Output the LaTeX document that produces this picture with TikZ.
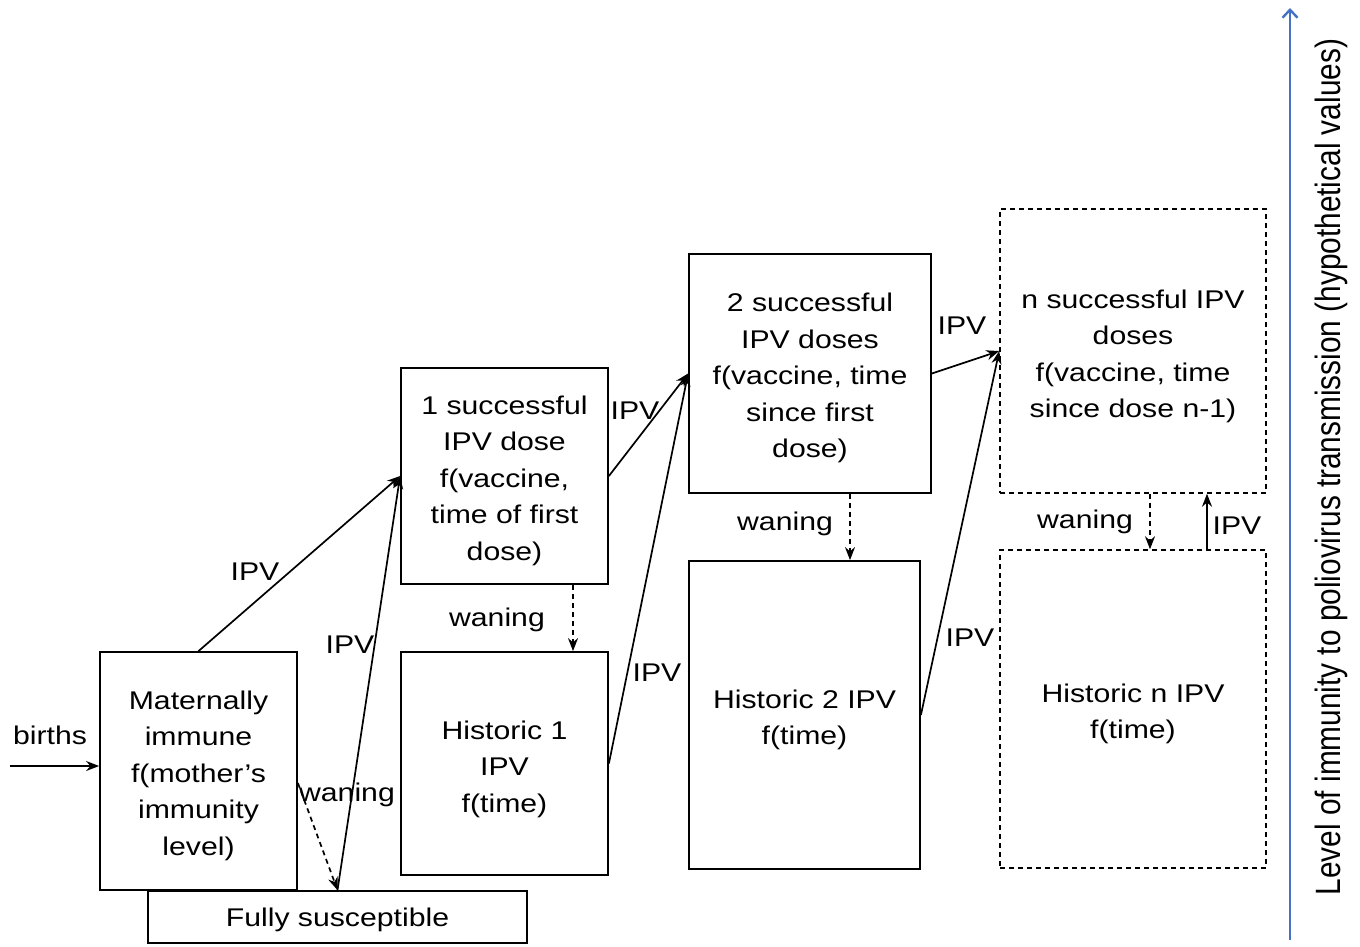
\documentclass[tikz,border=0pt]{standalone}
\usepackage{fontspec}
\setmainfont{Liberation Sans}[FakeStretch=1.18]
\newfontfamily\axisfont{Liberation Sans}
\usepackage{graphicx}
\usetikzlibrary{arrows.meta}
\newcommand\mainf{\fontsize{25.6}{36.5}\selectfont}
\newcommand\tstrut{\rule{0pt}{28pt}}
\begin{document}
\begin{tikzpicture}[x=1pt,y=-1pt,
  box/.style={draw, line width=1.8pt, align=center, inner sep=0pt, font=\mainf},
  dbox/.style={box, line width=1.5pt, dash pattern=on 5pt off 4pt},
  arr/.style={-{Stealth[length=13pt,width=10pt]}, line width=1.7pt},
  darr/.style={arr, dash pattern=on 5pt off 4pt},
  lab/.style={font=\mainf, inner sep=0pt},
  axis/.style={-{Straight Barb[length=8pt,width=15pt]}, line width=2.4pt, draw={rgb,255:red,68;green,114;blue,196}}]
\useasboundingbox (0,0) rectangle (1360,946);
% boxes
\node[box, minimum width=197pt, minimum height=238pt] (mat) at (198.5,771) {\tstrut Maternally\\immune\\f(mother’s\\immunity\\level)};
\node[box, minimum width=379pt, minimum height=52pt] (sus) at (337.5,917) {\rule{0pt}{24pt}Fully susceptible};
\node[box, minimum width=207pt, minimum height=216pt] (one) at (504.5,476) {\tstrut 1 successful\\IPV dose\\f(vaccine,\\time of first\\dose)};
\node[box, minimum width=207pt, minimum height=223pt] (h1) at (504.5,763.5) {\rule{0pt}{30pt}Historic 1\\IPV\\f(time)};
\node[box, minimum width=242pt, minimum height=239pt] (two) at (810,373.5) {\tstrut 2 successful\\IPV doses\\f(vaccine, time\\since first\\dose)};
\node[box, minimum width=231pt, minimum height=308pt] (h2) at (804.5,715) {\tstrut Historic 2 IPV\\f(time)};
\node[dbox, minimum width=266pt, minimum height=284pt] (n) at (1133,351) {\rule{0pt}{29pt}n successful IPV\\doses\\f(vaccine, time\\since dose n-1)};
\node[dbox, minimum width=266pt, minimum height=318pt] (hn) at (1133,709) {\tstrut Historic n IPV\\f(time)};
% helper coordinates
\coordinate (bs) at (10,766);
\coordinate (w1) at (573,0);
\coordinate (w2) at (850,0);
\coordinate (w3) at (1150,0);
\coordinate (i3) at (1207,0);
\coordinate (ax0) at (1290,940);
\coordinate (ax1) at (1290,8);
% connectors
\draw[arr] (bs) -- (mat.west |- bs);
\draw[arr] (mat.north) -- (one.west);
\draw[arr] (sus.north) -- (one.west);
\draw[darr] ([yshift=-12pt]mat.east) -- (sus.north);
\draw[arr] (one.east) -- (two.west);
\draw[arr] (h1.east) -- (two.west);
\draw[darr] (w1 |- one.south) -- (w1 |- h1.north);
\draw[arr] (two.east) -- (n.west);
\draw[arr] (h2.east) -- (n.west);
\draw[darr] (w2 |- two.south) -- (w2 |- h2.north);
\draw[darr] (w3 |- n.south) -- (w3 |- hn.north);
\draw[arr] (i3 |- hn.north) -- (i3 |- n.south);
\draw[axis] (ax0) -- (ax1);
% labels
\node[lab] (lb) at (50,735) {births};
\node[lab] (l1) at (255,572) {IPV};
\node[lab] (l2) at (350,645) {IPV};
\node[lab] (l3) at (347,795) {waning};
\node[lab] (l4) at (635,411) {IPV};
\node[lab] (l5) at (497,620) {waning};
\node[lab] (l6) at (657,673) {IPV};
\node[lab] (l7) at (785,524) {waning};
\node[lab] (l8) at (962,326) {IPV};
\node[lab] (l9) at (970,638) {IPV};
\node[lab] (l10) at (1085,522) {waning};
\node[lab] (l11) at (1237,526) {IPV};
\node[inner sep=0pt, rotate=90, font=\axisfont\fontsize{29.8}{34}\selectfont] (axl) at (1331,467) {\scalebox{1}[1.18]{Level of immunity to poliovirus transmission (hypothetical values)}};
\end{tikzpicture}
\end{document}
